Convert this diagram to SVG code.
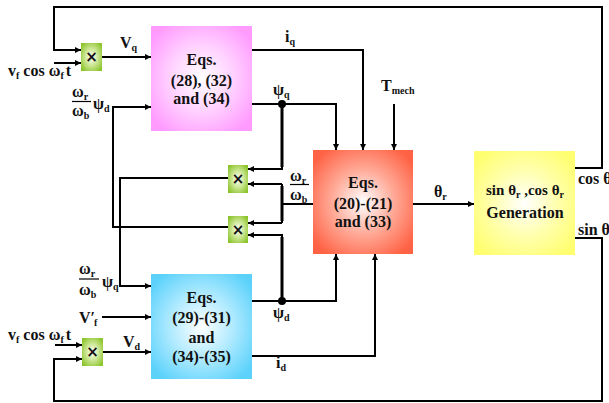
<svg xmlns="http://www.w3.org/2000/svg" width="609" height="403" viewBox="0 0 609 403">
<defs>
<radialGradient id="gPink" cx="50%" cy="50%" r="62%"><stop offset="0" stop-color="#ffffff"/><stop offset="0.5" stop-color="#ffd2ff"/><stop offset="1" stop-color="#ff9aff"/></radialGradient>
<radialGradient id="gBlue" cx="50%" cy="50%" r="62%"><stop offset="0" stop-color="#ffffff"/><stop offset="0.5" stop-color="#b0eaff"/><stop offset="1" stop-color="#5cd2fb"/></radialGradient>
<radialGradient id="gRed" cx="50%" cy="50%" r="62%"><stop offset="0" stop-color="#ffffff"/><stop offset="0.5" stop-color="#ffaa98"/><stop offset="1" stop-color="#ff6244"/></radialGradient>
<radialGradient id="gYel" cx="50%" cy="50%" r="62%"><stop offset="0" stop-color="#ffffff"/><stop offset="0.5" stop-color="#ffffb0"/><stop offset="1" stop-color="#ffff70"/></radialGradient>
<radialGradient id="gGrn" cx="50%" cy="50%" r="62%"><stop offset="0" stop-color="#ffffff"/><stop offset="0.45" stop-color="#d0e99c"/><stop offset="1" stop-color="#8cc42c"/></radialGradient>
<marker id="ah" viewBox="0 0 10 10" refX="10" refY="5" markerWidth="7" markerHeight="6" markerUnits="userSpaceOnUse" orient="auto"><path d="M0,0 L10,5 L0,10 z" fill="#000"/></marker>
</defs>
<style>
text{font-family:"Liberation Serif","Times New Roman",serif;font-weight:bold;fill:#111;}
.box{font-size:16px;text-anchor:middle;}
.lbl{font-size:16px;}
.s{font-size:10px;}
.mul{font-family:"DejaVu Sans",sans-serif;font-size:15px;text-anchor:middle;}
.c{fill:none;stroke:#000;stroke-width:2;}
.ca{fill:none;stroke:#000;stroke-width:2;marker-end:url(#ah);}
.thick{stroke-width:3;}
.fr{stroke:#000;stroke-width:1.2;}
</style>

<g id="connectors">
<path class="ca" d="M575,168 H602 V7 H54 V50 H81"/>
<path class="ca" d="M54,63 H81"/>
<path class="ca" d="M102,57 H151"/>
<path class="ca" d="M252,50 H363 V150"/>
<path class="ca" d="M252,104 H336 V150"/>
<path class="ca" d="M282,104 V169 H248"/>
<path class="ca" d="M394,104 V150"/>
<path class="c" d="M313,204 H282"/>
<path class="c" d="M282,184 V223"/>
<path class="ca" d="M282,184 H248"/>
<path class="ca" d="M282,223 H248"/>
<path class="ca" d="M252,301 H336 V254"/>
<path class="ca" d="M282,301 V235 H248"/>
<path class="ca" d="M252,356 H375 V254"/>
<path class="ca" d="M413,204 H474"/>
<path class="ca" d="M575,238 H602 V401 H54 V359 H82"/>
<path class="ca" d="M55,345 H82"/>
<path class="ca" d="M103,352 H151"/>
<path class="ca" d="M102,317 H151"/>
<path class="ca" d="M228,178 H120 V286 H151"/>
<path class="ca" d="M228,227 H113 V107 H151"/>
<path class="c thick" d="M282,104 V167"/>
<path class="c thick" d="M282,186 V221"/>
<path class="c thick" d="M282,301 V237"/>
<circle cx="282" cy="104" r="4" fill="#000"/>
<circle cx="282" cy="301" r="4" fill="#000"/>
</g>

<g id="eqs-q">
<rect x="151" y="26" width="101" height="105" fill="url(#gPink)"/>
<text class="box" x="201.5" y="65">Eqs.</text>
<text class="box" x="201.5" y="86">(28), (32)</text>
<text class="box" x="201.5" y="104">and (34)</text>
</g>

<g id="eqs-d">
<rect x="151" y="274" width="101" height="105" fill="url(#gBlue)"/>
<text class="box" x="201.5" y="303">Eqs.</text>
<text class="box" x="201.5" y="323">(29)-(31)</text>
<text class="box" x="201.5" y="343">and</text>
<text class="box" x="201.5" y="362">(34)-(35)</text>
</g>

<g id="eqs-mech">
<rect x="313" y="150" width="100" height="104" fill="url(#gRed)"/>
<text class="box" x="363" y="188">Eqs.</text>
<text class="box" x="363" y="209">(20)-(21)</text>
<text class="box" x="363" y="227">and (33)</text>
</g>

<g id="trig-gen">
<rect x="474" y="151" width="101" height="104" fill="url(#gYel)"/>
<text class="box" x="525" y="195" style="font-size:15px">sin θ<tspan class="s" dy="3">r</tspan><tspan dy="-3"> ,cos θ</tspan><tspan class="s" dy="3">r</tspan></text>
<text class="box" x="525" y="218">Generation</text>
</g>

<g id="mult-top">
<rect x="81" y="43" width="21" height="28" fill="url(#gGrn)"/>
<text class="mul" x="91.5" y="62">×</text>
</g>
<g id="mult-1">
<rect x="228" y="165" width="20" height="28" fill="url(#gGrn)"/>
<text class="mul" x="238" y="184">×</text>
</g>
<g id="mult-2">
<rect x="228" y="216" width="20" height="27" fill="url(#gGrn)"/>
<text class="mul" x="238" y="235">×</text>
</g>
<g id="mult-bot">
<rect x="82" y="338" width="21" height="28" fill="url(#gGrn)"/>
<text class="mul" x="92.5" y="357">×</text>
</g>

<g id="labels">
<text class="lbl" x="8" y="76">v<tspan class="s" dy="3">f</tspan><tspan dy="-3"> cos ω</tspan><tspan class="s" dy="3">f</tspan><tspan dy="-3" dx="2">t</tspan></text>
<text class="lbl" x="120" y="48">V<tspan class="s" dy="3">q</tspan></text>
<text class="lbl" x="285" y="42">i<tspan class="s" dy="3">q</tspan></text>
<text class="lbl" x="273" y="95">ψ<tspan class="s" dy="3">q</tspan></text>
<text class="lbl" x="381" y="91">T<tspan class="s" dy="3">mech</tspan></text>
<text class="lbl" x="72" y="97">ω<tspan class="s" dy="3">r</tspan></text>
<line class="fr" x1="72" y1="101.5" x2="91" y2="101.5"/>
<text class="lbl" x="72" y="116">ω<tspan class="s" dy="3">b</tspan></text>
<text class="lbl" x="93" y="109">ψ<tspan class="s" dy="3">d</tspan></text>
<text class="lbl" x="290" y="181">ω<tspan class="s" dy="3">r</tspan></text>
<line class="fr" x1="290" y1="184.5" x2="309" y2="184.5"/>
<text class="lbl" x="290" y="200">ω<tspan class="s" dy="3">b</tspan></text>
<text class="lbl" x="434" y="197">θ<tspan class="s" dy="3">r</tspan></text>
<text class="lbl" x="578" y="184">cos θ<tspan class="s" dy="3">r</tspan></text>
<text class="lbl" x="578" y="235">sin θ<tspan class="s" dy="3">r</tspan></text>
<text class="lbl" x="79" y="274">ω<tspan class="s" dy="3">r</tspan></text>
<line class="fr" x1="79" y1="279" x2="99" y2="279"/>
<text class="lbl" x="79" y="295">ω<tspan class="s" dy="3">b</tspan></text>
<text class="lbl" x="102" y="287">ψ<tspan class="s" dy="3">q</tspan></text>
<text class="lbl" x="79" y="323">V′<tspan class="s" dy="3" dx="-1">f</tspan></text>
<text class="lbl" x="8" y="340">v<tspan class="s" dy="3">f</tspan><tspan dy="-3"> cos ω</tspan><tspan class="s" dy="3">f</tspan><tspan dy="-3" dx="2">t</tspan></text>
<text class="lbl" x="123" y="347">V<tspan class="s" dy="3">d</tspan></text>
<text class="lbl" x="273" y="318">ψ<tspan class="s" dy="3">d</tspan></text>
<text class="lbl" x="276" y="368">i<tspan class="s" dy="3">d</tspan></text>
</g>
</svg>
